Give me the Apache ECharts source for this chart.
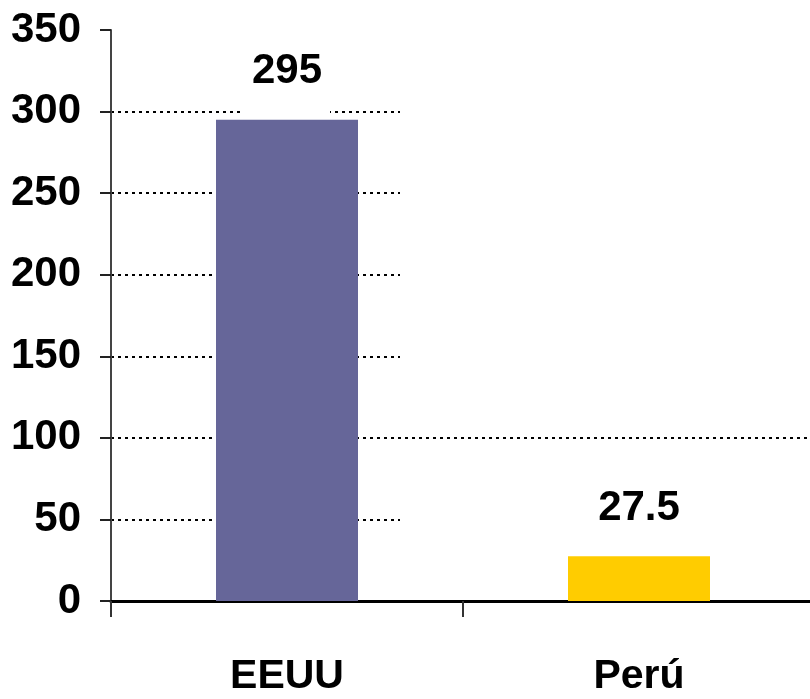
<!DOCTYPE html>
<html>
<head>
<meta charset="utf-8">
<style>
  html, body { margin: 0; padding: 0; background: #ffffff; }
  #chart { width: 810px; height: 699px; }
</style>
<script src="https://cdn.jsdelivr.net/npm/echarts@6/dist/echarts.min.js"></script>
</head>
<body>
<div id="chart"></div>
<script>
// Country comparison, two bars
const categories = ['EEUU', 'Perú'];
const values = [295, 27.5];
const barColors = ['#666699', '#FFCC00'];
const yTicks = [0, 50, 100, 150, 200, 250, 300, 350];

const FONT = '"Liberation Sans Narrow", "Arial Narrow", "Liberation Sans", Arial, sans-serif';
const DOT = { type: [3, 4], width: 2 };

// Per-line colours for the split lines, one entry per tick value
const fullWidthLines = yTicks.map(v => (v === 100 ? '#000000' : 'rgba(0,0,0,0)'));
const leftLines = yTicks.map(v => ((v === 0 || v === 100 || v === 350) ? 'rgba(0,0,0,0)' : '#000000'));

const chart = echarts.init(document.getElementById('chart'), null, { renderer: 'canvas' });

chart.setOption({
  animation: false,
  backgroundColor: '#ffffff',
  grid: [
    // the category band runs slightly past the right edge of the canvas
    { left: 111, width: 704, top: 30, bottom: 98, outerBoundsMode: 'none' },
    { left: 111, width: 289, top: 30, bottom: 98, outerBoundsMode: 'none' }
  ],
  xAxis: [
    {
      type: 'category',
      gridIndex: 0,
      data: categories,
      axisLine: { lineStyle: { color: '#000000', width: 3 } },
      axisTick: { show: true, length: 16, lineStyle: { color: '#333333', width: 2 } },
      axisLabel: {
        margin: 55,
        color: '#000000',
        fontFamily: FONT,
        fontWeight: 'bold',
        fontSize: 41
      },
      splitLine: { show: false }
    },
    {
      type: 'value',
      gridIndex: 1,
      min: 0,
      max: 1,
      show: false
    }
  ],
  yAxis: [
    {
      type: 'value',
      gridIndex: 0,
      min: 0,
      max: 350,
      interval: 50,
      axisLine: { show: true, lineStyle: { color: '#444444', width: 2 } },
      axisTick: { show: true, length: 11, lineStyle: { color: '#222222', width: 2 } },
      axisLabel: {
        margin: 30,
        color: '#000000',
        fontFamily: FONT,
        fontWeight: 'bold',
        fontSize: 42
      },
      splitLine: { show: true, lineStyle: Object.assign({ color: fullWidthLines }, DOT) }
    },
    {
      type: 'value',
      gridIndex: 1,
      min: 0,
      max: 350,
      interval: 50,
      axisLine: { show: false },
      axisTick: { show: false },
      axisLabel: { show: false },
      splitLine: { show: true, lineStyle: Object.assign({ color: leftLines }, DOT) }
    }
  ],
  series: [
    {
      type: 'bar',
      xAxisIndex: 0,
      yAxisIndex: 0,
      barWidth: 142,
      data: values.map((v, i) => ({ value: v, itemStyle: { color: barColors[i] } })),
      label: {
        show: true,
        position: 'top',
        distance: 3,
        color: '#000000',
        fontFamily: FONT,
        fontWeight: 'bold',
        fontSize: 42,
        backgroundColor: '#ffffff',
        padding: [0, 8, 24, 8]
      }
    }
  ]
});
</script>
</body>
</html>
